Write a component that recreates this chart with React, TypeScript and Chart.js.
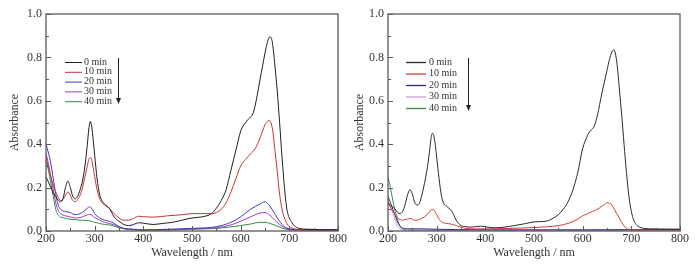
import React, { useEffect, useRef } from "react";
import { Chart, registerables } from "chart.js";

Chart.register(...registerables);

// ---------- labels & ticks ----------
const seriesLabels = ["0 min", "10 min", "20 min", "30 min", "40 min"];
const xTickValues = [200, 300, 400, 500, 600, 700, 800];
const yTickValues = [0, 0.2, 0.4, 0.6, 0.8, 1.0];
const xTitle = "Wavelength / nm";
const yTitle = "Absorbance";

// ---------- left panel ----------
const leftWl0 = [200,205,210,215,220,225,230,235,240,245,250,255,260,265,270,275,280,285,288,291,294,297,300,305,310,315,320,325,330,335,340,350,360,370,380,390,400,420,440,460,480,500,520,540,550,560,570,580,590,600,610,620,625,630,640,650,655,660,665,670,675,680,685,690,695,700,705,710,720,740,760,780,800];
const leftAbs0 = [0.25,0.225,0.2,0.175,0.158,0.143,0.135,0.15,0.2,0.23,0.2,0.16,0.148,0.16,0.19,0.23,0.3,0.4,0.47,0.505,0.48,0.42,0.35,0.24,0.17,0.14,0.125,0.115,0.105,0.085,0.065,0.045,0.03,0.025,0.03,0.038,0.036,0.03,0.035,0.04,0.05,0.06,0.065,0.08,0.105,0.14,0.19,0.28,0.37,0.46,0.5,0.525,0.54,0.58,0.7,0.82,0.87,0.895,0.87,0.77,0.65,0.5,0.34,0.2,0.1,0.06,0.04,0.025,0.012,0.008,0.006,0.005,0.005];

const leftWl1 = [200,205,210,215,220,225,230,235,240,245,250,255,260,265,270,275,280,285,288,291,294,297,300,305,310,315,320,330,340,350,360,370,380,390,400,420,450,480,500,520,540,550,560,570,580,590,600,610,620,630,640,650,655,658,662,666,670,675,680,685,690,695,700,710,720,740,800];
const leftAbs1 = [0.34,0.29,0.25,0.21,0.18,0.155,0.14,0.145,0.165,0.18,0.165,0.14,0.135,0.145,0.165,0.2,0.25,0.3,0.33,0.338,0.325,0.29,0.25,0.19,0.15,0.13,0.12,0.105,0.08,0.06,0.05,0.05,0.058,0.068,0.066,0.064,0.07,0.075,0.08,0.08,0.08,0.085,0.1,0.13,0.18,0.24,0.3,0.33,0.355,0.38,0.43,0.49,0.505,0.51,0.5,0.46,0.38,0.28,0.17,0.1,0.06,0.035,0.02,0.01,0.007,0.006,0.005];

const leftWl2 = [200,205,210,215,220,225,230,235,240,250,260,270,280,285,290,295,300,310,320,330,340,350,360,380,400,450,500,550,580,600,620,640,645,650,655,660,670,680,690,700,720,800];
const leftAbs2 = [0.4,0.36,0.31,0.24,0.17,0.12,0.1,0.092,0.09,0.085,0.075,0.08,0.095,0.105,0.112,0.1,0.08,0.06,0.05,0.045,0.035,0.02,0.012,0.008,0.005,0.008,0.012,0.02,0.04,0.065,0.1,0.125,0.132,0.135,0.128,0.115,0.08,0.045,0.02,0.01,0.006,0.005];

const leftWl3 = [200,205,210,215,220,225,230,240,250,260,270,280,290,300,310,320,330,340,350,360,380,400,450,500,550,580,600,620,640,650,660,670,680,690,700,720,800];
const leftAbs3 = [0.36,0.31,0.25,0.19,0.13,0.095,0.08,0.07,0.065,0.06,0.062,0.07,0.077,0.062,0.05,0.04,0.035,0.028,0.02,0.012,0.007,0.005,0.006,0.01,0.015,0.028,0.045,0.065,0.083,0.085,0.072,0.05,0.03,0.015,0.008,0.005,0.004];

const leftWl4 = [200,205,210,215,220,225,230,240,250,260,270,280,290,300,310,320,330,340,350,360,380,400,450,500,550,600,620,640,650,660,670,680,690,700,720,800];
const leftAbs4 = [0.33,0.28,0.22,0.16,0.1,0.075,0.065,0.058,0.054,0.052,0.05,0.049,0.047,0.04,0.035,0.03,0.028,0.022,0.015,0.01,0.005,0.003,0.004,0.008,0.012,0.025,0.032,0.04,0.04,0.035,0.027,0.018,0.01,0.006,0.004,0.003];

// ---------- right panel ----------
const rightWl0 = [200,205,210,215,220,225,230,235,240,245,250,255,260,265,270,275,280,285,288,291,294,297,300,305,310,315,320,325,330,335,340,345,350,360,370,380,390,400,410,420,440,460,480,500,520,530,540,550,560,570,580,590,600,610,615,620,625,630,640,650,655,660,664,668,672,676,680,685,690,695,700,705,710,720,740,760,780,800];
const rightAbs0 = [0.13,0.12,0.11,0.1,0.085,0.08,0.09,0.12,0.165,0.19,0.17,0.13,0.12,0.13,0.17,0.22,0.28,0.36,0.42,0.45,0.44,0.4,0.34,0.24,0.16,0.125,0.115,0.105,0.095,0.075,0.05,0.035,0.025,0.02,0.018,0.02,0.022,0.02,0.016,0.015,0.018,0.025,0.033,0.042,0.044,0.048,0.06,0.075,0.1,0.135,0.19,0.27,0.38,0.44,0.46,0.47,0.49,0.53,0.64,0.74,0.79,0.825,0.835,0.81,0.74,0.64,0.54,0.4,0.27,0.16,0.09,0.05,0.03,0.015,0.01,0.009,0.008,0.008];

const rightWl1 = [200,205,210,215,220,225,230,235,240,245,250,255,260,265,270,275,280,285,290,295,300,305,310,320,330,340,350,360,380,400,450,500,550,570,590,600,610,620,630,640,645,650,655,660,665,670,675,680,690,700,720,800];
const rightAbs1 = [0.13,0.11,0.09,0.075,0.06,0.052,0.05,0.052,0.055,0.058,0.054,0.05,0.05,0.053,0.058,0.065,0.075,0.088,0.1,0.095,0.075,0.055,0.042,0.035,0.032,0.025,0.018,0.012,0.01,0.01,0.012,0.016,0.025,0.035,0.055,0.07,0.08,0.09,0.1,0.115,0.122,0.13,0.128,0.12,0.1,0.08,0.06,0.04,0.012,0.006,0.005,0.005];

const rightWl2 = [200,205,210,215,220,225,230,240,260,300,350,400,500,600,700,800];
const rightAbs2 = [0.16,0.13,0.1,0.07,0.04,0.022,0.014,0.01,0.01,0.008,0.006,0.005,0.005,0.005,0.006,0.008];

const rightWl3 = [200,205,210,215,220,225,230,240,300,400,500,600,700,800];
const rightAbs3 = [0.14,0.11,0.08,0.05,0.02,0.008,0.004,0.003,0.003,0.003,0.003,0.004,0.004,0.004];

const rightWl4 = [200,205,210,215,220,225,230,240,300,400,500,600,700,800];
const rightAbs4 = [0.25,0.2,0.14,0.09,0.05,0.02,0.008,0.004,0.004,0.004,0.004,0.004,0.004,0.005];

const leftColors = ["#1e1e1e", "#c83232", "#3c3cc0", "#a23cb4", "#2f8f45"];
const rightColors = ["#2a2a2a", "#d03c3c", "#2c2c84", "#d49ae0", "#3a8a4e"];

const FONT = '"Liberation Serif", "Times New Roman", serif';
const TEXT = "#333";

function pairs(wl: number[], ab: number[]) {
  return wl.map((x, i) => ({ x, y: ab[i] }));
}

function midpoints(vals: number[]) {
  const out: number[] = [];
  for (let i = 0; i < vals.length - 1; i++) out.push((vals[i] + vals[i + 1]) / 2);
  return out;
}

const framePlugin = {
  id: "frame",
  afterDraw(chart: any) {
    const { ctx, chartArea: a, scales } = chart;
    const xs = scales.x, ys = scales.y;
    ctx.save();
    ctx.strokeStyle = "#5a5a5a";
    ctx.lineWidth = 1.3;
    ctx.strokeRect(a.left, a.top, a.right - a.left, a.bottom - a.top);
    ctx.lineWidth = 1;
    ctx.beginPath();
    xTickValues.forEach((v) => {
      const p = Math.round(xs.getPixelForValue(v)) + 0.5;
      ctx.moveTo(p, a.bottom); ctx.lineTo(p, a.bottom - 5);
    });
    midpoints(xTickValues).forEach((v) => {
      const p = Math.round(xs.getPixelForValue(v)) + 0.5;
      ctx.moveTo(p, a.bottom); ctx.lineTo(p, a.bottom - 3);
    });
    yTickValues.forEach((v) => {
      const p = Math.round(ys.getPixelForValue(v)) + 0.5;
      ctx.moveTo(a.left, p); ctx.lineTo(a.left + 5, p);
    });
    midpoints(yTickValues).forEach((v) => {
      const p = Math.round(ys.getPixelForValue(v)) + 0.5;
      ctx.moveTo(a.left, p); ctx.lineTo(a.left + 3, p);
    });
    ctx.stroke();
    ctx.restore();
  },
};

const insetLegendPlugin = {
  id: "insetLegend",
  afterDraw(chart: any, _args: any, o: any) {
    const { ctx } = chart;
    ctx.save();
    ctx.font = `10px ${FONT}`;
    ctx.textBaseline = "middle";
    ctx.textAlign = "left";
    chart.data.datasets.forEach((ds: any, i: number) => {
      const y = o.y0 + i * o.dy;
      ctx.strokeStyle = ds.borderColor;
      ctx.lineWidth = o.lineWidth;
      ctx.beginPath();
      ctx.moveTo(o.x0, y + 0.5);
      ctx.lineTo(o.x1, y + 0.5);
      ctx.stroke();
      ctx.fillStyle = TEXT;
      ctx.fillText(ds.label, o.textX, y);
    });
    // arrow
    ctx.strokeStyle = "#222";
    ctx.fillStyle = "#222";
    ctx.lineWidth = 1;
    ctx.beginPath();
    ctx.moveTo(o.arrowX + 0.5, o.arrowY0);
    ctx.lineTo(o.arrowX + 0.5, o.arrowY1 - 4);
    ctx.stroke();
    ctx.beginPath();
    ctx.moveTo(o.arrowX + 0.5, o.arrowY1);
    ctx.lineTo(o.arrowX - 2, o.arrowY1 - 6);
    ctx.lineTo(o.arrowX + 3, o.arrowY1 - 6);
    ctx.closePath();
    ctx.fill();
    ctx.restore();
  },
};

function makeConfig(
  wls: number[][],
  abs: number[][],
  colors: string[],
  yAxisWidth: number,
  rightPad: number,
  yTitlePad: number,
  legend: any
): any {
  return {
    type: "line",
    data: {
      datasets: seriesLabels.map((label, i) => ({
        label,
        data: pairs(wls[i], abs[i]),
        borderColor: colors[i],
        backgroundColor: colors[i],
        borderWidth: 1,
        pointRadius: 0,
        cubicInterpolationMode: "monotone",
        fill: false,
      })),
    },
    options: {
      animation: false,
      responsive: false,
      maintainAspectRatio: false,
      devicePixelRatio: 1,
      layout: { padding: { top: 14, right: rightPad, left: 0, bottom: 0 } },
      plugins: {
        legend: { display: false },
        tooltip: { enabled: false },
        insetLegend: legend,
      },
      scales: {
        x: {
          type: "linear",
          min: 200,
          max: 800,
          afterBuildTicks: (s: any) => { s.ticks = xTickValues.map((v) => ({ value: v })); },
          afterFit: (s: any) => { s.height = 34; },
          ticks: { font: { family: FONT, size: 12 }, color: TEXT, padding: 1, maxRotation: 0, autoSkip: false },
          grid: { display: false, drawTicks: false },
          border: { display: false },
          title: { display: true, text: xTitle, font: { family: FONT, size: 12 }, color: TEXT, padding: { top: 0, bottom: 5 } },
        },
        y: {
          type: "linear",
          min: 0,
          max: 1,
          afterBuildTicks: (s: any) => { s.ticks = yTickValues.map((v) => ({ value: v })); },
          afterFit: (s: any) => { s.width = yAxisWidth; },
          ticks: { font: { family: FONT, size: 12 }, color: TEXT, padding: 4, callback: (v: any) => Number(v).toFixed(1) },
          grid: { display: false, drawTicks: false },
          border: { display: false },
          title: { display: true, text: yTitle, font: { family: FONT, size: 12 }, color: TEXT, padding: { top: yTitlePad, bottom: 0 } },
        },
      },
    },
    plugins: [framePlugin, insetLegendPlugin],
  };
}

function Panel({ build }: { build: () => any }) {
  const ref = useRef<HTMLCanvasElement | null>(null);
  useEffect(() => {
    if (!ref.current) return;
    const chart = new Chart(ref.current, build());
    return () => chart.destroy();
  }, []);
  return <canvas ref={ref} width={348} height={265} style={{ display: "block", width: 348, height: 265 }} />;
}

export default function App() {
  return (
    <div style={{ position: "absolute", left: 0, top: 0, width: 696, height: 265, display: "flex", background: "#fff" }}>
      <Panel
        build={() =>
          makeConfig(
            [leftWl0, leftWl1, leftWl2, leftWl3, leftWl4],
            [leftAbs0, leftAbs1, leftAbs2, leftAbs3, leftAbs4],
            leftColors,
            46,
            9,
            8,
            { x0: 65, x1: 82, textX: 84, y0: 62, dy: 9.8, lineWidth: 1, arrowX: 118, arrowY0: 58, arrowY1: 104 }
          )
        }
      />
      <Panel
        build={() =>
          makeConfig(
            [rightWl0, rightWl1, rightWl2, rightWl3, rightWl4],
            [rightAbs0, rightAbs1, rightAbs2, rightAbs3, rightAbs4],
            rightColors,
            40,
            16,
            5,
            { x0: 58, x1: 78, textX: 81, y0: 62, dy: 11.5, lineWidth: 1.3, arrowX: 120, arrowY0: 58, arrowY1: 111 }
          )
        }
      />
    </div>
  );
}
